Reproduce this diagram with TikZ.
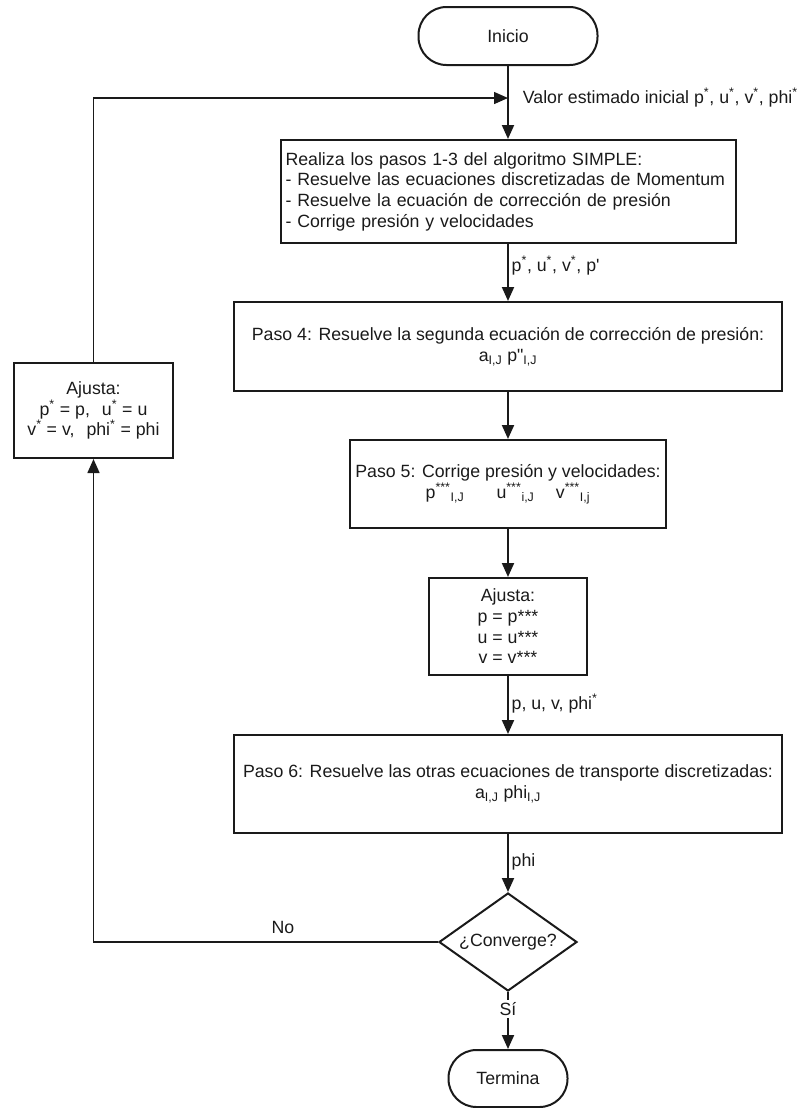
\documentclass[tikz,border=0pt]{standalone}
\usepackage{fontspec}
\setmainfont{Liberation Sans}
\usetikzlibrary{arrows.meta,positioning,shapes.geometric}
\definecolor{ink}{HTML}{1A1A1A}
\tikzset{terminal/.style={draw=ink,line width=1.5pt,rounded corners=21pt,
  minimum height=43.5pt,align=center},
  process/.style={draw=ink,line width=1.5pt,align=center,inner sep=3.75pt},
  decision/.style={diamond,draw=ink,line width=1.5pt,aspect=1.4,inner sep=0pt,
  minimum width=103.5pt,minimum height=73.5pt},
  lbl/.style={inner sep=2pt},
  flow/.style={-{Triangle[length=10.5pt,width=9pt]},line width=1.5pt,draw=ink},
  back/.style={-{Triangle[length=10.5pt,width=9pt]},line width=1.1pt,draw=ink}}

\begin{document}
\begin{tikzpicture}[x=0.75pt,y=-0.75pt,font=\fontsize{13.3}{15.5}\selectfont,text=ink]
\useasboundingbox (0,0) rectangle (798,1108);
\node[terminal,minimum width=134.25pt] (ini) at (508,36) {Inicio};
\node[process,text width=333.75pt,align=left,minimum height=77.25pt,below=54.75pt of ini] (simple)
  {Realiza los pasos 1-3 del algoritmo SIMPLE:\\- Resuelve las ecuaciones discretizadas de Momentum\\
   - Resuelve la ecuación de corrección de presión\\- Corrige presión y velocidades};
\node[process,minimum width=411pt,minimum height=66.75pt,below=42.75pt of simple] (paso4)
  {Paso 4: Resuelve la segunda ecuación de corrección de presión:\\
   a\textsubscript{I,J} p\textquotedbl\textsubscript{I,J}};
\node[process,minimum width=234pt,minimum height=66pt,below=35.25pt of paso4] (paso5)
  {Paso 5: Corrige presión y velocidades:\\
   p\textsuperscript{***}\textsubscript{I,J}\hspace{24pt}u\textsuperscript{***}\textsubscript{i,J}\hspace{16pt}v\textsuperscript{***}\textsubscript{I,j}};
\node[process,minimum width=118.5pt,minimum height=72.75pt,below=36pt of paso5] (ajuste)
  {Ajusta:\\p = p***\\u = u***\\v = v***};
\node[process,minimum width=411pt,minimum height=73.5pt,below=43.5pt of ajuste] (paso6)
  {Paso 6: Resuelve las otras ecuaciones de transporte discretizadas:\\
   a\textsubscript{I,J} phi\textsubscript{I,J}};
\node[decision,below=43.5pt of paso6] (conv) {¿Converge?};
\node[terminal,minimum width=89.25pt,minimum height=42.75pt,below=42.75pt of conv] (fin) {Termina};
\node[process,minimum width=119.25pt,minimum height=71.25pt] (reinicio) at (93.5,410.5)
  {Ajusta:\\p\textsuperscript{*} = p,\hspace{9pt}u\textsuperscript{*} = u\\
   v\textsuperscript{*} = v,\hspace{9pt}phi\textsuperscript{*} = phi};
\coordinate (entrada) at (508,98);
\node[lbl,right=9pt of entrada] (valor)
  {Valor estimado inicial p\textsuperscript{*}, u\textsuperscript{*}, v\textsuperscript{*}, phi\textsuperscript{*}};
% camino principal
\draw[flow] (ini) -- (simple);
\draw[flow] (simple) -- node[lbl,right,pos=0.37]
  {p\textsuperscript{*}, u\textsuperscript{*}, v\textsuperscript{*}, p\textquotesingle} (paso4);
\draw[flow] (paso4) -- (paso5);
\draw[flow] (paso5) -- (ajuste);
\draw[flow] (ajuste) -- node[lbl,right,pos=0.47] {p, u, v, phi\textsuperscript{*}} (paso6);
\draw[flow] (paso6) -- node[lbl,right,pos=0.48] {phi} (conv);
\draw[flow] (conv) -- node[lbl,fill=white,pos=0.3] {Sí} (fin);
% lazo de iteracion
\draw[back] (conv) -| node[lbl,above,pos=0.225,yshift=4pt] {No} (reinicio);
\draw[back] (reinicio) |- (entrada);
\end{tikzpicture}
\end{document}
